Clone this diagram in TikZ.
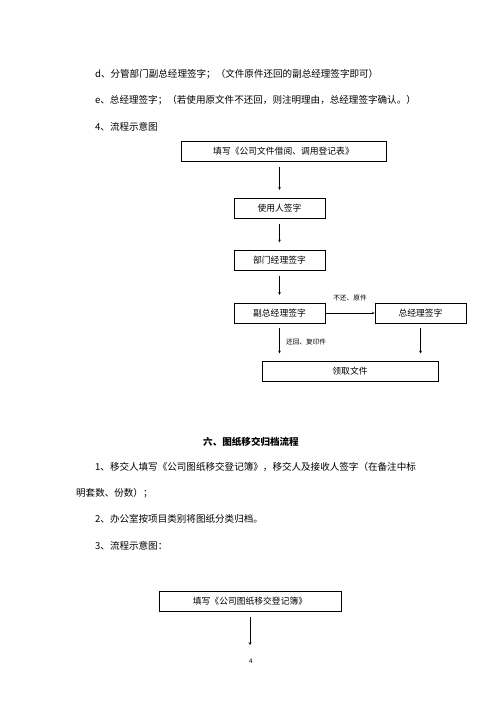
\documentclass[tikz,border=0pt]{standalone}
\usepackage{fontspec}
\setmainfont{Noto Sans CJK SC}
\tikzset{
	para/.style={anchor=west,inner sep=0pt,font=\fontsize{13.6}{13.6}\selectfont},
	box/.style={draw,line width=0.8pt,minimum height=1cm,inner sep=0pt,font=\fontsize{12.5}{12.5}\selectfont},
	lbl/.style={inner sep=1pt,font=\fontsize{9.5}{9.5}\selectfont},
	flow/.style={->,line width=0.8pt,shorten <=8pt,shorten >=11pt}
}
\begin{document}
\begin{tikzpicture}[>=stealth,x=0.05cm,y=-0.05cm]
	\useasboundingbox (0,0) rectangle (500,707);
	% text above
	\node[para] (d) at (95,74) {d、分管部门副总经理签字；（文件原件还回的副总经理签字即可）};
	\node[para] (e) at (95,100) {e、总经理签字；（若使用原文件不还回，则注明理由，总经理签字确认。）};
	\node[para] (four) at (95,127) {4、流程示意图};
	% first chart
	\node[box,minimum width=10.25cm] (fill) at (283.5,151) {填写《公司文件借阅、调用登记表》};
	\node[box,minimum width=4.55cm] (user) at (279.5,208) {使用人签字};
	\node[box,minimum width=4.55cm] (dept) at (279.5,260.5) {部门经理签字};
	\node[box,minimum width=4.55cm] (vice) at (279.5,313) {副总经理签字};
	\node[box,minimum width=4.55cm] (gm) at (420.5,313) {总经理签字};
	\node[box,minimum width=8.8cm] (take) at (350,371.5) {领取文件};
	\draw[flow] (user.north |- fill.south) -- (user.north);
	\draw[flow] (user) -- (dept);
	\draw[flow] (dept) -- (vice);
	\draw[->,line width=0.8pt] (vice) -- (gm) node[lbl,midway,above=16pt] (keep) {不还、原件};
	\draw[flow,shorten <=6pt] (vice) -- (vice |- take.north) node[lbl,midway,right=8pt] (back) {还回、复印件};
	\draw[flow,shorten <=6pt] (gm) -- (gm |- take.north);
	% section six
	\node[inner sep=0pt,font=\fontsize{13.6}{13.6}\selectfont\bfseries] (six) at (251,442) {六、图纸移交归档流程};
	\node[para] (one) at (95,467) {1、移交人填写《公司图纸移交登记簿》，移交人及接收人签字（在备注中标};
	\node[para] (onebis) at (76,493) {明套数、份数）；};
	\node[para] (two) at (95,519) {2、办公室按项目类别将图纸分类归档。};
	\node[para] (three) at (95,546) {3、流程示意图：};
	\node[box,minimum width=9.1cm] (reg) at (250,601) {填写《公司图纸移交登记簿》};
	\coordinate (tail) at (250,645);
	\draw[->,line width=0.8pt,shorten <=8pt] (reg) -- (tail);
	\node[inner sep=0pt,font=\fontsize{9}{9}\selectfont] (page) at (251,661) {4};
\end{tikzpicture}
\end{document}
